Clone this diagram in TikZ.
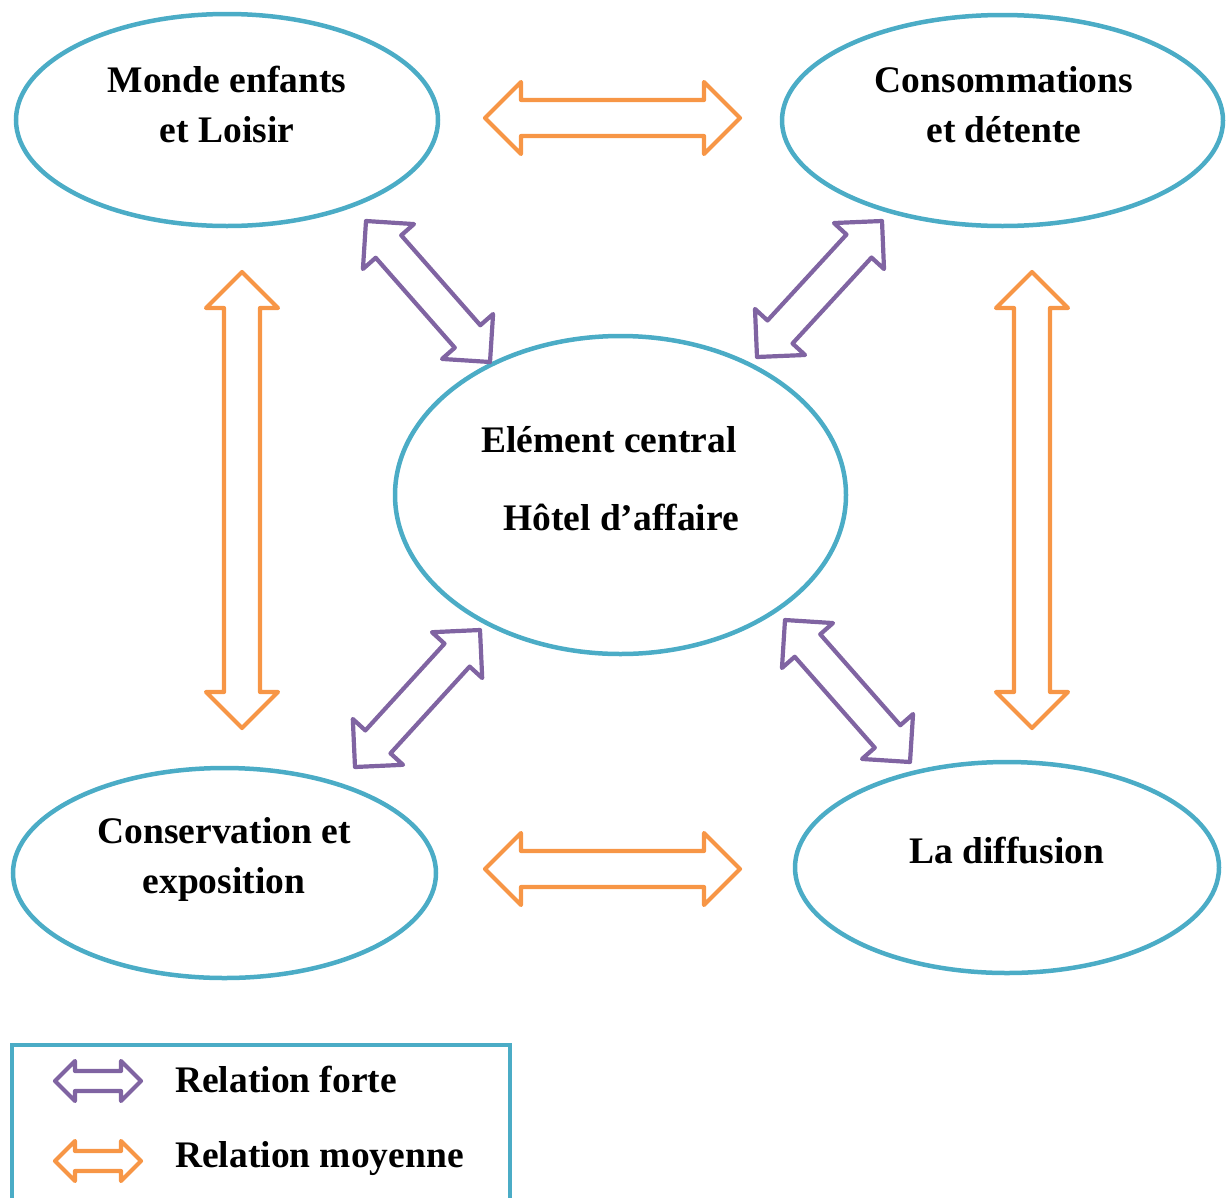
\documentclass[tikz,border=0pt]{standalone}
\usepackage{fontspec}
\setmainfont{Liberation Serif}
\usetikzlibrary{shapes.geometric}
\usetikzlibrary{calc}
\definecolor{poleblue}{HTML}{4BACC6}
\definecolor{relorange}{HTML}{F79646}
\definecolor{relpurple}{HTML}{8064A2}
\tikzset{pole/.style={draw=poleblue,line width=4.5pt,ellipse,inner sep=0pt},
    poletext/.style={font=\bfseries\fontsize{37.5}{50}\selectfont,align=center,anchor=base,inner sep=0pt},
    forte/.style={draw=relpurple,line width=4.2pt,line join=round,
        dbl arrow/head=34pt,dbl arrow/shaft=17pt},
    moyenne/.style={draw=relorange,line width=4.2pt,line join=round,
        dbl arrow/head=36pt,dbl arrow/shaft=18pt},
    dbl arrow/.cd,head/.initial=36pt,shaft/.initial=18pt}

\begin{document}
\begin{tikzpicture}[x=1pt,y=-1pt,
pics/dbl arrow/.style args={#1/#2}{code={
    \def\hw{\pgfkeysvalueof{/tikz/dbl arrow/head}}
    \def\sw{\pgfkeysvalueof{/tikz/dbl arrow/shaft}}
    \coordinate (h1) at ($(#1)!\hw!(#2)$);
    \coordinate (h2) at ($(#2)!\hw!(#1)$);
    \draw[pic actions] (#1) -- ($(h1)!\hw!90:(#2)$) -- ($(h1)!\sw!90:(#2)$)
      -- ($(h2)!\sw!-90:(#1)$) -- ($(h2)!\hw!-90:(#1)$) -- (#2)
      -- ($(h2)!\hw!90:(#1)$) -- ($(h2)!\sw!90:(#1)$)
      -- ($(h1)!\sw!-90:(#2)$) -- ($(h1)!\hw!-90:(#2)$) -- cycle;}}]
      \useasboundingbox (0,0) rectangle (1228,1197);
      % the five poles
      \node[pole,minimum width=422pt,minimum height=212pt] (loisir) at (227,120) {};
      \node[pole,minimum width=441pt,minimum height=211pt] (conso) at (1002.5,120.5) {};
      \node[pole,minimum width=451pt,minimum height=318pt] (central) at (620.5,495) {};
      \node[pole,minimum width=423pt,minimum height=210pt] (expo) at (224.5,873) {};
      \node[pole,minimum width=424pt,minimum height=211pt] (diffusion) at (1007,867.5) {};
      \node[poletext] (t-loisir) at (227,142) {Monde enfants\\et Loisir};
      \node[poletext] (t-conso) at (1004,142) {Consommations\\et détente};
      \node[poletext] (t-central) at (609,452) {Elément central};
      \node[poletext] (t-hotel) at (621,530) {Hôtel d’affaire};
      \node[poletext] (t-expo) at (224,893) {Conservation et\\exposition};
      \node[poletext] (t-diffusion) at (1007,863) {La diffusion};
      % arrow tips
      \coordinate (lc-a) at (485,118);  \coordinate (lc-b) at (740,118);
      \coordinate (ed-a) at (485,869);  \coordinate (ed-b) at (740,869);
      \coordinate (le-a) at (242,272);  \coordinate (le-b) at (242,728);
      \coordinate (cd-a) at (1032,272); \coordinate (cd-b) at (1032,728);
      \coordinate (lz-a) at (366,221);  \coordinate (lz-b) at (490,362);
      \coordinate (cz-a) at (882,221);  \coordinate (cz-b) at (757,357);
      \coordinate (ez-a) at (480,630);  \coordinate (ez-b) at (355,767);
      \coordinate (dz-a) at (785,620);  \coordinate (dz-b) at (910,762);
      \foreach \r in {lc,ed,le,cd}
        \pic[moyenne] {dbl arrow=\r-a/\r-b};
      \foreach \r in {lz,cz,ez,dz}
        \pic[forte] {dbl arrow=\r-a/\r-b};
      % legend
      \node[draw=poleblue,line width=4.5pt,anchor=north west,outer sep=0pt,inner sep=0pt,
        minimum width=498pt,minimum height=200pt] (legend) at (12,1045) {};
      \coordinate (kf-a) at (55,1081);  \coordinate (kf-b) at (141,1081);
      \coordinate (km-a) at (55,1161);  \coordinate (km-b) at (141,1161);
      \pic[forte,dbl arrow/head=20pt,dbl arrow/shaft=10pt] {dbl arrow=kf-a/kf-b};
      \pic[moyenne,dbl arrow/head=20pt,dbl arrow/shaft=10pt] {dbl arrow=km-a/km-b};
      \node[poletext,anchor=base west] (t-forte) at (175,1092) {Relation forte};
      \node[poletext,anchor=base west] (t-moyenne) at (175,1167) {Relation moyenne};
\end{tikzpicture}
\end{document}
